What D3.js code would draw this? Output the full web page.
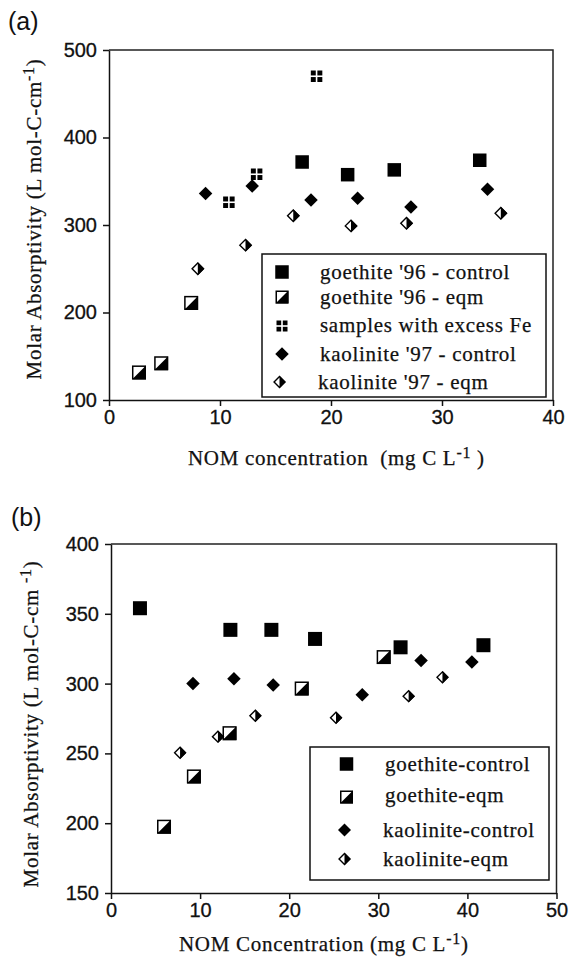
<!DOCTYPE html>
<html>
<head>
<meta charset="utf-8">
<script src="https://cdn.jsdelivr.net/npm/d3@7/dist/d3.min.js"></script>
<style>
  body { margin: 0; background: #fff; }
  .tick text { font-family: "Liberation Sans", Arial, sans-serif; font-size: 20px; fill: #111; stroke: #111; stroke-width: 0.3px; }
  .serif { font-family: "Liberation Serif", "Times New Roman", serif; font-size: 21px; letter-spacing: 0.7px; fill: #111; stroke: #111; stroke-width: 0.25px; }
  .plabel { font-family: "Liberation Sans", Arial, sans-serif; font-size: 25px; fill: #111; }
</style>
</head>
<body>
<svg id="chart" width="569" height="957"></svg>
<script>
var svg = d3.select("#chart");

// ---- panel (a) data: [NOM mg C/L, molar absorptivity]
var aGoethiteControl = [[17.4, 372], [21.5, 357.5], [25.7, 363], [33.4, 374]];
var aGoethiteEqm = [[2.7, 131.5], [4.7, 142], [7.4, 211]];
var aExcessFe = [[10.8, 326], [13.3, 358], [18.7, 470]];
var aKaoliniteControl = [[8.7, 336], [12.9, 344.5], [18.2, 328.5], [22.4, 330.5], [27.2, 320.5], [34.1, 341]];
var aKaoliniteEqm = [[8.0, 250], [12.3, 277], [16.6, 310.5], [21.8, 299], [26.8, 302], [35.3, 313.5]];
var aXTicks = [0, 10, 20, 30, 40];
var aYTicks = [100, 200, 300, 400, 500];

// ---- panel (b) data
var bGoethiteControl = [[3.25, 354], [13.4, 338.5], [18.0, 338.5], [22.9, 332], [32.5, 326], [41.8, 327.5]];
var bGoethiteEqm = [[5.95, 197.5], [9.3, 233.5], [13.3, 264.5], [21.4, 296.5], [30.6, 319]];
var bKaoliniteControl = [[9.2, 300], [13.8, 303.5], [18.2, 299], [28.2, 292], [34.8, 316.5], [40.5, 315.5]];
var bKaoliniteEqm = [[7.75, 250.5], [12.0, 262], [16.2, 277], [25.25, 275.5], [33.4, 291], [37.2, 304.5]];
var bXTicks = [0, 10, 20, 30, 40, 50];
var bYTicks = [150, 200, 250, 300, 350, 400];

// draw one marker shape centred at 0,0
function marker(g, type, s) {
    var h = s / 2;
    if (type == "square") {
        g.append("rect").attr("x", -h).attr("y", -h).attr("width", s).attr("height", s).attr("fill", "#000");
    } else if (type == "halfSquare") {
        g.append("rect").attr("x", -h + 0.75).attr("y", -h + 0.75).attr("width", s - 1.5).attr("height", s - 1.5)
            .attr("fill", "#fff").attr("stroke", "#000").attr("stroke-width", 1.5);
        g.append("path").attr("d", "M" + h + "," + (-h) + "L" + h + "," + h + "L" + (-h) + "," + h + "Z").attr("fill", "#000");
    } else if (type == "quad") {
        var q = (s - 1.6) / 2;
        [[-h, -h], [-h + q + 1.6, -h], [-h, -h + q + 1.6], [-h + q + 1.6, -h + q + 1.6]].forEach(function(p) {
            g.append("rect").attr("x", p[0]).attr("y", p[1]).attr("width", q).attr("height", q).attr("fill", "#000");
        });
    } else if (type == "diamond") {
        g.append("path").attr("d", "M0," + (-h) + "L" + h + ",0L0," + h + "L" + (-h) + ",0Z").attr("fill", "#000");
    } else if (type == "halfDiamond") {
        var k = h - 0.8;
        g.append("path").attr("d", "M0," + (-k) + "L" + k + ",0L0," + k + "L" + (-k) + ",0Z")
            .attr("fill", "#fff").attr("stroke", "#000").attr("stroke-width", 1.4);
        g.append("path").attr("d", "M0," + (-h) + "L" + h + ",0L0," + h + "Z").attr("fill", "#000");
    }
}

function drawSeries(g, data, x, y, type, s) {
    g.append("g").selectAll("g")
        .data(data)
        .enter().append("g")
        .attr("transform", function(d) { return "translate(" + x(d[0]) + "," + y(d[1]) + ")"; })
        .each(function() { marker(d3.select(this), type, s); });
}

function drawFrame(g, x, y, xTicks, yTicks) {
    g.append("g")
        .attr("transform", "translate(0," + y.range()[0] + ")")
        .call(d3.axisBottom(x).tickValues(xTicks).tickSize(6).tickPadding(4).tickSizeOuter(0));
    g.append("g")
        .attr("transform", "translate(" + x.range()[0] + ",0)")
        .call(d3.axisLeft(y).tickValues(yTicks).tickSize(6).tickPadding(6).tickSizeOuter(0));
    g.selectAll(".domain, .tick line").attr("stroke", "#111").attr("stroke-width", 1.5);
    // top and right border
    g.append("path")
        .attr("d", "M" + x.range()[0] + "," + y.range()[1] + "H" + x.range()[1] + "V" + y.range()[0])
        .attr("fill", "none").attr("stroke", "#222").attr("stroke-width", 1.5);
}

function legend(g, box, rows) {
    g.append("rect").attr("x", box[0]).attr("y", box[1]).attr("width", box[2]).attr("height", box[3])
        .attr("fill", "#fff").attr("stroke", "#111").attr("stroke-width", 1.5);
    rows.forEach(function(r) {
        marker(g.append("g").attr("transform", "translate(" + r.mx + "," + r.my + ")"), r.type, r.size);
        g.append("text").attr("class", "serif").attr("x", r.tx).attr("y", r.ty).text(r.label);
    });
}

function supText(t, before, sup, after) {
    t.append("tspan").text(before);
    t.append("tspan").attr("dy", -7).attr("font-size", "16px").text(sup);
    t.append("tspan").attr("dy", 7).text(after);
}

// ================= panel (a)
var xa = d3.scaleLinear().domain([0, 40]).range([109, 553]);
var ya = d3.scaleLinear().domain([100, 500]).range([400, 50]);
var ga = svg.append("g");
drawFrame(ga, xa, ya, aXTicks, aYTicks);
drawSeries(ga, aGoethiteControl, xa, ya, "square", 13.5);
drawSeries(ga, aGoethiteEqm, xa, ya, "halfSquare", 14);
drawSeries(ga, aExcessFe, xa, ya, "quad", 11.5);
drawSeries(ga, aKaoliniteControl, xa, ya, "diamond", 13.5);
drawSeries(ga, aKaoliniteEqm, xa, ya, "halfDiamond", 13);

legend(ga, [262, 254, 284, 143], [
    {type: "square", size: 13.5, mx: 282, my: 272, tx: 320, ty: 279, label: "goethite '96 - control"},
    {type: "halfSquare", size: 13, mx: 282, my: 297, tx: 320, ty: 303.5, label: "goethite '96 - eqm"},
    {type: "quad", size: 11, mx: 282, my: 326, tx: 320, ty: 332, label: "samples with excess Fe"},
    {type: "diamond", size: 13.5, mx: 282, my: 354, tx: 320, ty: 361, label: "kaolinite '97 - control"},
    {type: "halfDiamond", size: 12.5, mx: 279.5, my: 382, tx: 318, ty: 388.5, label: "kaolinite '97 - eqm"}
]);

ga.append("text").attr("class", "plabel").attr("x", 8).attr("y", 30).text("(a)");

supText(ga.append("text").attr("class", "serif").attr("x", 188).attr("y", 465),
    "NOM concentration\u00a0\u00a0(mg C L", "-1", "\u00a0)");

supText(ga.append("text").attr("class", "serif").attr("text-anchor", "middle")
    .attr("transform", "translate(41,219) rotate(-90)"),
    "Molar Absorptivity (L mol-C-cm", "-1", ")");

// ================= panel (b)
var xb = d3.scaleLinear().domain([0, 50]).range([111, 556.5]);
var yb = d3.scaleLinear().domain([150, 400]).range([893, 544]);
var gb = svg.append("g");
drawFrame(gb, xb, yb, bXTicks, bYTicks);
drawSeries(gb, bGoethiteControl, xb, yb, "square", 14);
drawSeries(gb, bGoethiteEqm, xb, yb, "halfSquare", 14);
drawSeries(gb, bKaoliniteControl, xb, yb, "diamond", 13.5);
drawSeries(gb, bKaoliniteEqm, xb, yb, "halfDiamond", 12.5);

legend(gb, [310, 747, 239, 133], [
    {type: "square", size: 13.5, mx: 346.5, my: 764, tx: 385, ty: 771, label: "goethite-control"},
    {type: "halfSquare", size: 13, mx: 346.5, my: 797, tx: 385, ty: 802, label: "goethite-eqm"},
    {type: "diamond", size: 13, mx: 344.5, my: 830, tx: 383, ty: 837, label: "kaolinite-control"},
    {type: "halfDiamond", size: 12.5, mx: 344.5, my: 859, tx: 383, ty: 865.5, label: "kaolinite-eqm"}
]);

gb.append("text").attr("class", "plabel").attr("x", 11).attr("y", 526).text("(b)");

supText(gb.append("text").attr("class", "serif").attr("x", 179).attr("y", 951),
    "NOM Concentration (mg C L", "-1", ")");

supText(gb.append("text").attr("class", "serif").attr("text-anchor", "middle")
    .attr("transform", "translate(38,724) rotate(-90)"),
    "Molar Absorptivity (L mol-C-cm ", "-1", ")");
</script>
</body>
</html>
